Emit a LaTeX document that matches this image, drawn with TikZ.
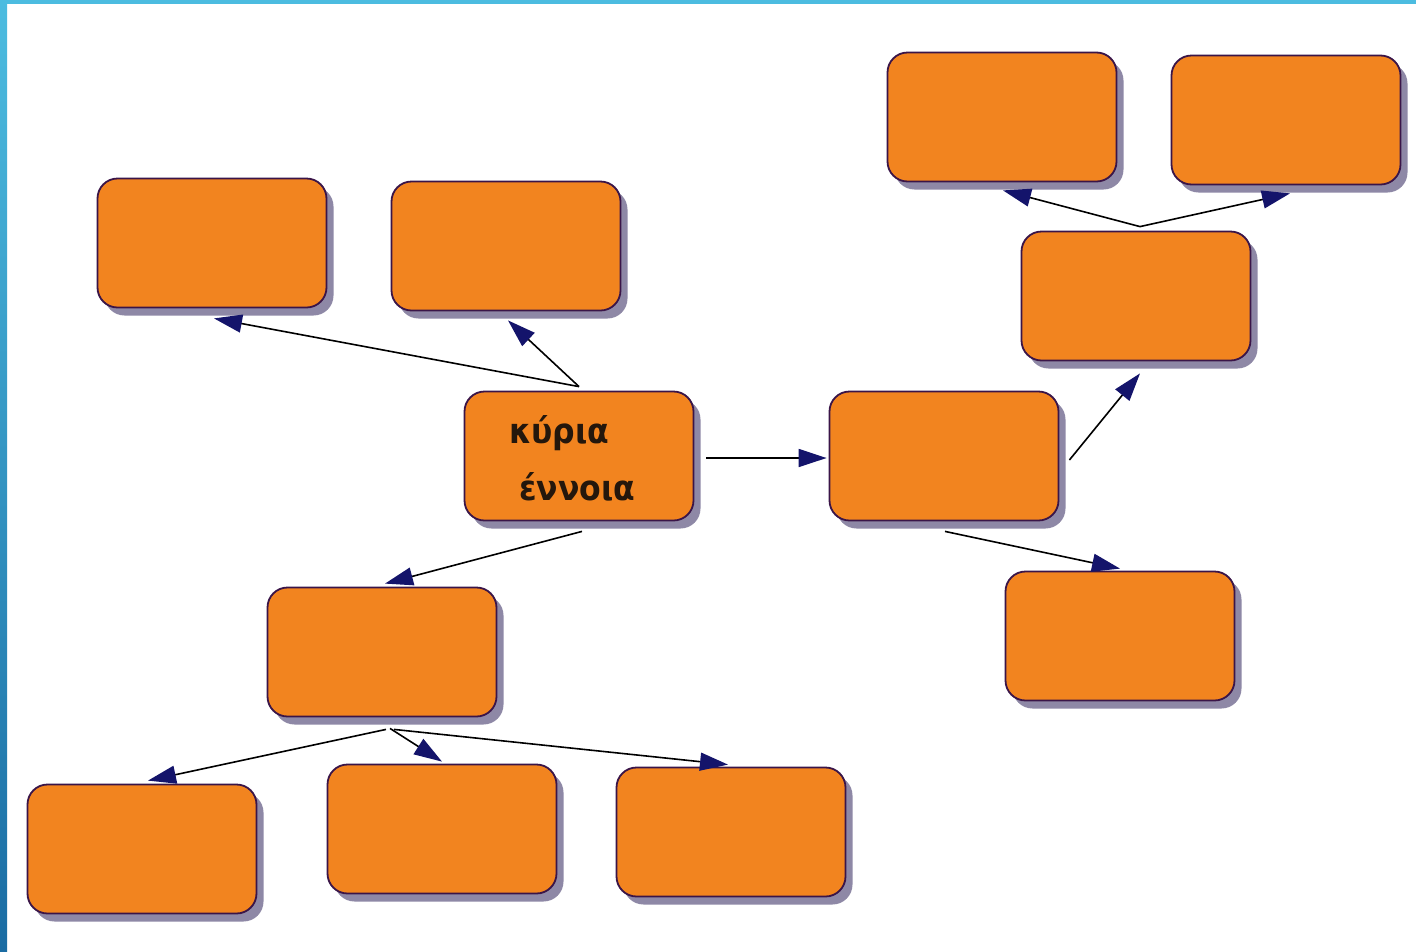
\documentclass[tikz,border=0pt]{standalone}
\usepackage{fontspec}
\newfontfamily\greekfont{DejaVu Sans Condensed}
\usetikzlibrary{arrows.meta,shadows,calc}
\definecolor{boxfill}{HTML}{F2841F}
\definecolor{boxline}{HTML}{3A1548}
\definecolor{shadowc}{HTML}{8E88A6}
\definecolor{navyhead}{HTML}{14146B}
\definecolor{bartop}{HTML}{4CBCE0}
\definecolor{barbot}{HTML}{1A6CA3}
\definecolor{txt}{HTML}{24170C}
\tikzset{
  box/.style={draw=boxline, line width=1.8pt, fill=boxfill, rounded corners=20pt,
    minimum width=229pt, minimum height=129pt, inner sep=0pt,
    drop shadow={shadow xshift=7pt, shadow yshift=-8pt, fill=shadowc, opacity=1}},
  conn/.style={line width=1.6pt, draw=black,
    -{Triangle[length=28pt,width=18pt,fill=navyhead,color=navyhead]}},
  maintxt/.style={font=\greekfont\bfseries\fontsize{35}{52}\selectfont, text=txt,
    align=left, inner sep=0pt, anchor=north west}
}
\begin{document}
\begin{tikzpicture}[x=1pt,y=-1pt]
\useasboundingbox (0,0) rectangle (1416,951);
\fill[white] (0,0) rectangle (1416,951);
% frame
\fill[bartop] (0,0) rectangle (1416,4);
\shade[top color=bartop, bottom color=barbot] (0,0) rectangle (7,951);
% boxes
\node[box] (A)   at (212,243) {};
\node[box] (B)   at (506,246) {};
\node[box] (main) at (579,456) {};
\node[box] (R1)  at (944,456) {};
\node[box] (R2)  at (1136,296) {};
\node[box] (TR1) at (1002,117) {};
\node[box] (TR2) at (1286,120) {};
\node[box] (R3)  at (1120,636) {};
\node[box] (L1)  at (382,652) {};
\node[box] (BL1) at (142,849) {};
\node[box] (BL2) at (442,829) {};
\node[box] (BL3) at (731,832) {};
\node[maintxt] (mtext) at (509,415) {κύρια\\[5pt]\hspace{10pt}έννοια};
% connectors
\draw[conn] ($(main.north)+(0,-4)$) -- ($(A.south)+(2,10)$);
\draw[conn] ($(main.north)+(0,-4)$) -- ($(B.south)+(2,9)$);
\draw[conn] ($(main.east)+(12,2)$) -- ($(R1.west)+(-2,2)$);
\draw[conn] ($(main.south)+(3,10)$) -- ($(L1.north)+(3,-3)$);
\draw[conn] ($(R1.east)+(10,4)$) -- ($(R2.south)+(4,12)$);
\draw[conn] ($(R1.south)+(1,10)$) -- ($(R3.north)+(0,-2)$);
\draw[conn] ($(R2.north)+(4,-4)$) -- ($(TR1.south)+(1,8)$);
\draw[conn] ($(R2.north)+(4,-4)$) -- ($(TR2.south)+(4,8)$);
\draw[conn] ($(L1.south)+(4,12)$) -- ($(BL1.north)+(6,-3)$);
\draw[conn] ($(L1.south)+(8,11)$) -- ($(BL2.north)+(0,-2)$);
\draw[conn] ($(L1.south)+(12,12)$) -- ($(BL3.north)+(-3,-2)$);
\end{tikzpicture}
\end{document}
